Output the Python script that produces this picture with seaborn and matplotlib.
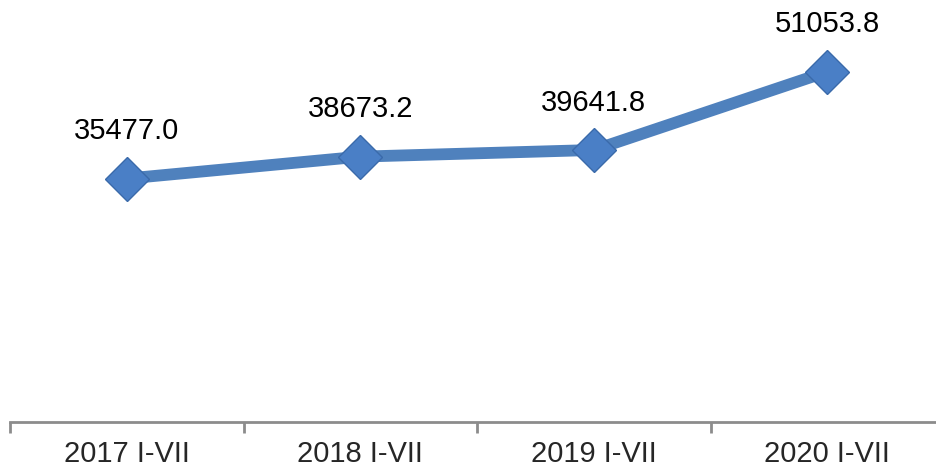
import numpy as np
import matplotlib.pyplot as plt
import seaborn as sns
import pandas as pd

# Data
periods = ["2017 I-VII", "2018 I-VII", "2019 I-VII", "2020 I-VII"]
values = [35477.0, 38673.2, 39641.8, 51053.8]
value_labels = ["35477.0", "38673.2", "39641.8", "51053.8"]

df = pd.DataFrame({"period": periods, "value": values})
df["pos"] = np.arange(len(periods))

sns.set_style("white")
plt.rcParams['font.family'] = ['Liberation Sans', 'DejaVu Sans']

fig = plt.figure(figsize=(9.36, 4.68), dpi=100)
ax = fig.add_axes([10 / 936, 46 / 468, 934 / 936, 422 / 468])

sns.lineplot(data=df, x="pos", y="value", ax=ax, color="#4F81BD", linewidth=8.5,
             marker="D", markersize=22, markerfacecolor="#4A7FC6",
             markeredgecolor="#3A6AAA", markeredgewidth=1.0, zorder=3)

for x, y, lab in zip(df["pos"], df["value"], value_labels):
    ax.annotate(lab, (x, y), xytext=(0, 24), textcoords="offset points",
                ha="center", va="bottom", fontsize=21, color="black")

ax.set_xlim(-0.5, len(periods) - 0.5)
ax.set_ylim(0, 61500)

# category labels centered, ticks at category boundaries
ax.set_xticks(np.arange(len(periods) + 1) - 0.5)
ax.set_xticklabels([])
ax.set_xticks(df["pos"], minor=True)
ax.set_xticklabels(periods, minor=True, fontsize=21)
ax.tick_params(axis="x", which="major", length=8, width=2, color="#8C8C8C", direction="out", bottom=True)
ax.tick_params(axis="x", which="minor", length=0, pad=13)
ax.set_yticks([])
ax.set_xlabel("")
ax.set_ylabel("")

for side in ["top", "right", "left"]:
    ax.spines[side].set_visible(False)
ax.spines["bottom"].set_color("#8C8C8C")
ax.spines["bottom"].set_linewidth(2)

fig.savefig("out.png", dpi=100)
